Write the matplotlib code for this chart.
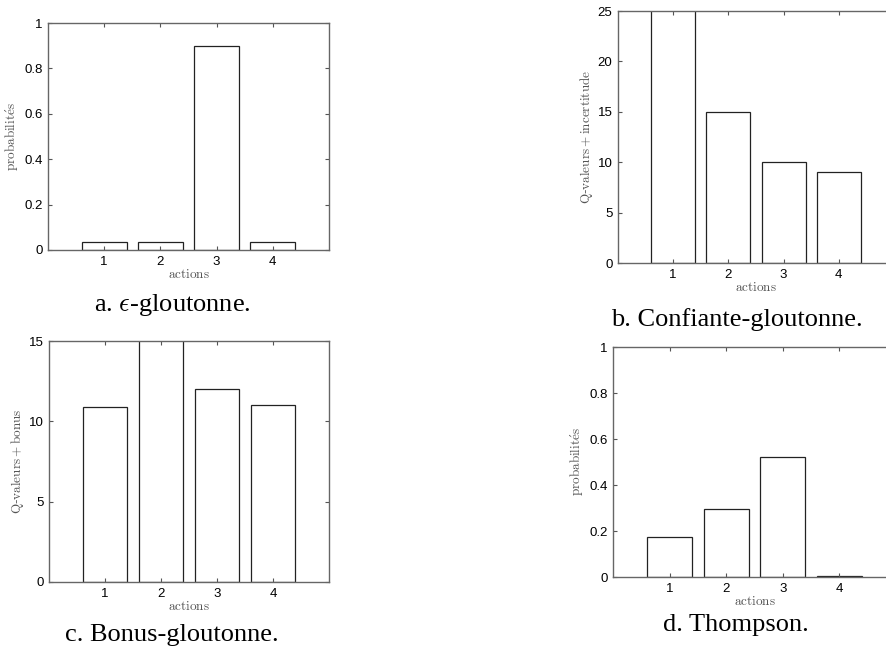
import numpy as np
import matplotlib
matplotlib.use("Agg")
import matplotlib.pyplot as plt
from matplotlib.ticker import FormatStrFormatter

plt.rcParams['mathtext.fontset'] = 'cm'
plt.rcParams['font.family'] = ['Liberation Sans', 'DejaVu Sans']

actions = [1, 2, 3, 4]
eps_greedy = [0.0333, 0.0333, 0.9, 0.0333]
confiante = [28, 15, 10, 9.05]
bonus = [10.87, 17, 12, 11]
thompson = [0.172, 0.296, 0.523, 0.004]

W, H = 886, 654
fig = plt.figure(figsize=(W / 100, H / 100), dpi=100)


def add_ax(l, r, t, b):
    return fig.add_axes([l / W, 1 - b / H, (r - l) / W, (b - t) / H])


def draw(ax, vals, ymax, yticks, ylabel, fmt):
    ax.bar(actions, vals, width=0.8, color='white', edgecolor='#222222', linewidth=0.9)
    ax.set_xlim(0, 5)
    ax.set_ylim(0, ymax)
    ax.set_xticks(actions)
    ax.set_yticks(yticks)
    ax.yaxis.set_major_formatter(FormatStrFormatter(fmt))
    ax.tick_params(direction='in', top=True, right=True, length=3, width=0.8,
                   color='#555555', labelsize=9.5, pad=4)
    for s in ax.spines.values():
        s.set_color('#666666')
        s.set_linewidth(1.0)
    ax.set_xlabel(r'$\mathrm{actions}$', fontsize=9.5, color='#555555', labelpad=0)
    ax.set_ylabel(ylabel, fontsize=9.5, color='#555555', labelpad=2)


ax_a = add_ax(48, 329, 23, 250)
draw(ax_a, eps_greedy, 1, [0, 0.2, 0.4, 0.6, 0.8, 1], r'$\mathrm{probabilit\acute{e}s}$', '%g')

ax_b = add_ax(618, 894, 11, 263)
draw(ax_b, confiante, 25, [0, 5, 10, 15, 20, 25], r'$\mathrm{Q}$-$\mathrm{valeurs} + \mathrm{incertitude}$', '%g')

ax_c = add_ax(49, 329, 341, 582)
draw(ax_c, bonus, 15, [0, 5, 10, 15], r'$\mathrm{Q}$-$\mathrm{valeurs} + \mathrm{bonus}$', '%g')

ax_d = add_ax(613, 896, 347, 577)
draw(ax_d, thompson, 1, [0, 0.2, 0.4, 0.6, 0.8, 1], r'$\mathrm{probabilit\acute{e}s}$', '%g')

cap = dict(ha='center', va='center', fontsize=19, family='Liberation Serif')
fig.text(172 / W, 1 - 305 / H, r'a. $\epsilon$-gloutonne.', **cap)
fig.text(737 / W, 1 - 320 / H, 'b. Confiante-gloutonne.', **cap)
fig.text(172 / W, 1 - 635 / H, 'c. Bonus-gloutonne.', **cap)
fig.text(736 / W, 1 - 625 / H, 'd. Thompson.', **cap)

fig.savefig('out.png', dpi=100)
